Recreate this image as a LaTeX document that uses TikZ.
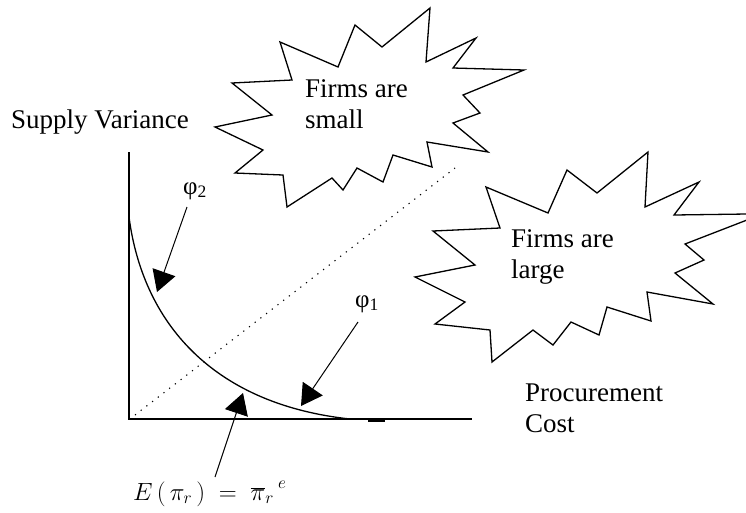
\documentclass[tikz,border=0pt]{standalone}
\usepackage{fontspec}
\setmainfont{Liberation Serif}
\usetikzlibrary{arrows.meta}
\tikzset{
  starline/.style={draw=black, line width=1.3pt, line join=miter, fill=white},
  axisline/.style={draw=black, line width=1.6pt},
  curveline/.style={draw=black, line width=1.3pt},
  pointer/.style={draw=black, line width=1pt, -{Triangle[length=21pt,width=24pt]}},
  lbl/.style={inner sep=0pt, anchor=base west, align=left, font=\fontsize{27}{31}\selectfont},
  greek/.style={inner sep=0pt, anchor=base west, font=\fontsize{25}{25}\selectfont},
}
\begin{document}
\begin{tikzpicture}[x=1pt, y=-1pt]
\useasboundingbox (0,0) rectangle (746,512);

% axes
\coordinate (O) at (129,419);
\coordinate (ytop) at (129,152);
\coordinate (xend) at (472,419);
\draw[axisline] (ytop) -- (O) -- (xend);

% dotted diagonal
\coordinate (d0) at (135,415);
\coordinate (d1) at (455,168);
\draw[black, line width=1.1pt, dash pattern=on 1.2pt off 6pt] (d0) -- (d1);

% curve
\coordinate (c0) at (129,217);
\coordinate (c1) at (350,419);
\draw[curveline] (c0) .. controls (144,330) and (220,405) .. (c1);
\draw[black, line width=3pt] (368,420) -- (385,420);

% star 1 (small)
\draw[starline] (215,127) -- (272,115) -- (232,83) -- (292,80) -- (280,42) -- (338,67)
  -- (355,25) -- (382,47) -- (430,8) -- (426,62) -- (476,38) -- (453,68)
  -- (524,70) -- (463,95) -- (480,113) -- (453,123) -- (488,152) -- (427,142)
  -- (432,167) -- (393,155) -- (383,182) -- (357,168) -- (343,190) -- (332,178)
  -- (287,207) -- (283,175) -- (235,173) -- (263,150) -- cycle;

% star 2 (large)
\draw[starline] (415,277) -- (475,265) -- (433,231) -- (500,228) -- (486,187) -- (548,213)
  -- (567,170) -- (597,193) -- (648,152) -- (645,207) -- (699,182) -- (674,215)
  -- (747,214) -- (747,220) -- (685,244) -- (704,260) -- (675,273) -- (713,304)
  -- (647,292) -- (651,321) -- (607,307) -- (599,335) -- (571,322) -- (553,345)
  -- (533,330) -- (492,362) -- (490,330) -- (435,324) -- (465,302) -- cycle;

% texts (multi-line nodes: base anchor is the last line's baseline)
\node[lbl] (sv) at (11,128) {Supply Variance};
\node[lbl] (small) at (305,128) {Firms are\\small};
\node[lbl] (large) at (511,278) {Firms are\\large};
\node[lbl] (pc) at (525,432) {Procurement\\Cost};
\node[greek] (phi2) at (183,194) {φ\textsubscript{2}};
\node[greek] (phi1) at (355,307) {φ\textsubscript{1}};
\node[inner sep=0pt, anchor=base west, font=\fontsize{27}{27}\selectfont] (eq) at (133,500)
  {$E\,(\,\pi_r\,) \;=\; \overline{\pi}_r\,\raisebox{12pt}{$\scriptstyle e$}$};

% pointers
\coordinate (t2) at (187,207);
\coordinate (h2) at (157,292);
\coordinate (t1) at (358,322);
\coordinate (h1) at (301,406);
\coordinate (te) at (215,477);
\coordinate (he) at (243,393);
\draw[pointer] (t2) -- (h2);
\draw[pointer] (t1) -- (h1);
\draw[pointer] (te) -- (he);
\end{tikzpicture}
\end{document}
